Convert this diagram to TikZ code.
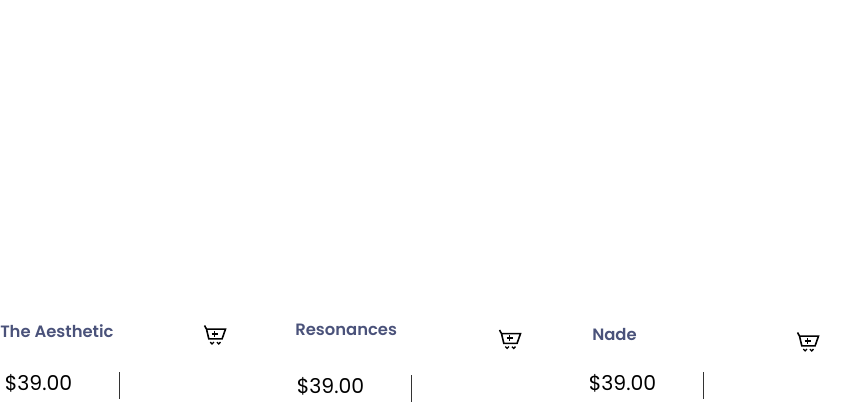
\documentclass[tikz,border=0pt]{standalone}
\usepackage{fontspec}
\setmainfont{Poppins}
\newfontfamily\titlefont{Poppins SemiBold}
\usepackage{xcolor}
\definecolor{titleblue}{RGB}{74,82,122}
\tikzset{
  title/.style={anchor=base west, inner sep=0pt, text=titleblue, font=\fontsize{12.3}{14}\selectfont\titlefont},
  price/.style={anchor=base west, inner sep=0pt, text=black, font=\fontsize{15.3}{18}\selectfont},
  rule/.style={draw=black!80, line width=0.6pt},
  basket/.pic={
    \draw[line width=1.2pt] (0,0) -- (2,3.6) -- (21,3.6) -- (17.6,13.3) -- (4.3,13.3) -- (2,3.6);
    \draw[line width=1.3pt] (7.2,8.3) -- (13,8.3) (10.1,5.4) -- (10.1,11.2);
    \draw[line width=1pt] (5.8,16.6) -- (7.6,18.4) -- (9.4,16.6) (12.4,16.6) -- (14.2,18.4) -- (16,16.6);
  }
}
\begin{document}
\begin{tikzpicture}[x=0.75pt,y=-0.75pt]
  \useasboundingbox (0,0) rectangle (843,405);
  % first product
  \node[title] (name1) at (0,337.5) {The Aesthetic};
  \node[price] (price1) at (4.5,390) {\$39.00};
  \pic at (204.5,325.5) {basket};
  \coordinate (top1) at (119.5,372);
  \coordinate (bot1) at (119.5,399);
  \draw[rule] (top1) -- (bot1);
  % second product
  \node[title] (name2) at (295,335.5) {Resonances};
  \node[price] (price2) at (296.5,393) {\$39.00};
  \pic at (499.5,330) {basket};
  \coordinate (top2) at (411.5,375);
  \coordinate (bot2) at (411.5,402);
  \draw[rule] (top2) -- (bot2);
  % third product
  \node[title] (name3) at (592,340.5) {Nade};
  \node[price] (price3) at (588.5,390) {\$39.00};
  \pic at (797.5,332.5) {basket};
  \coordinate (top3) at (703.5,372);
  \coordinate (bot3) at (703.5,399);
  \draw[rule] (top3) -- (bot3);
\end{tikzpicture}
\end{document}
